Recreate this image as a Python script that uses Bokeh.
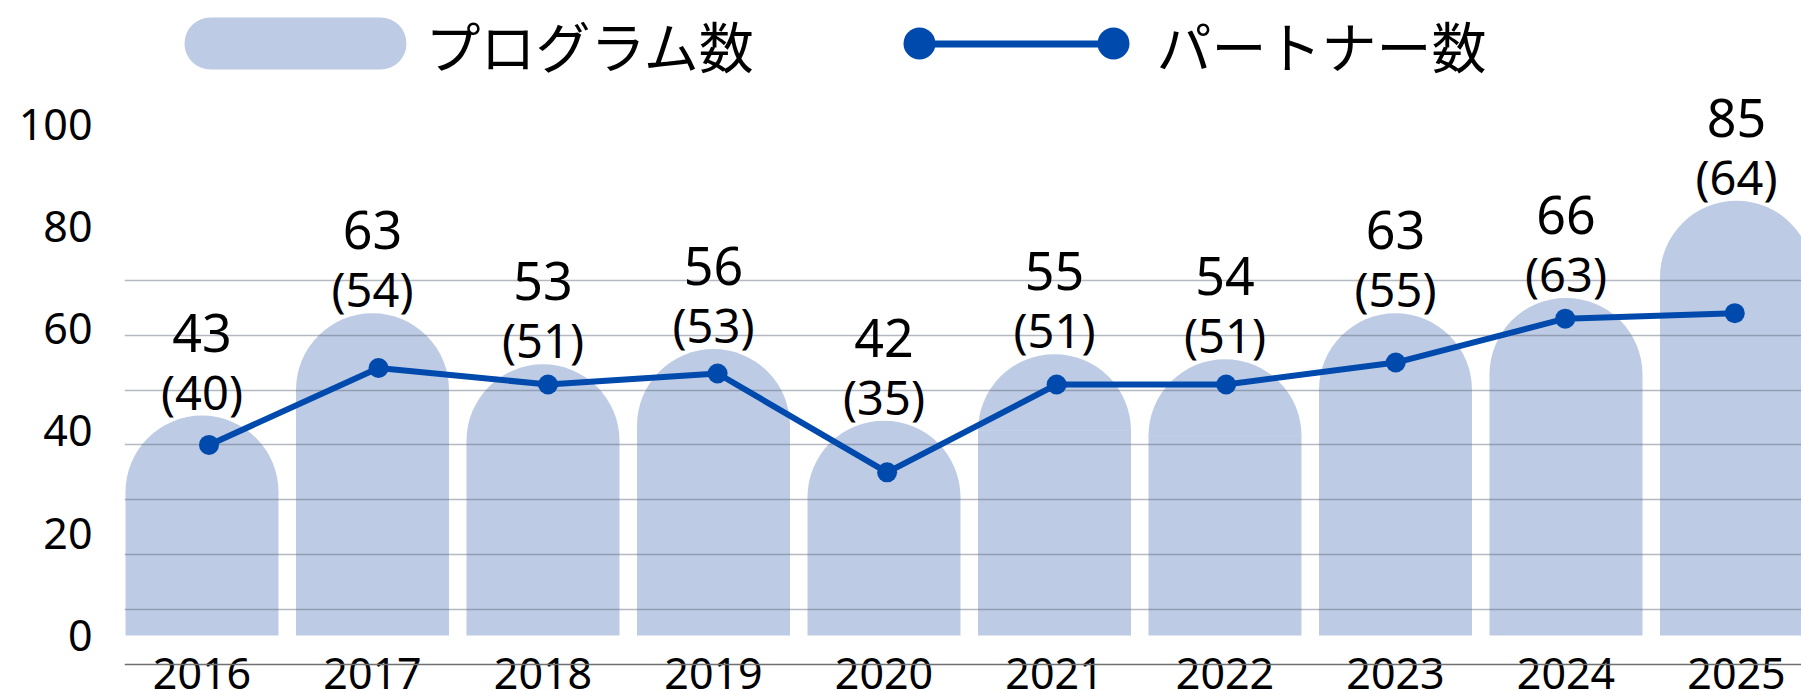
import math
from bokeh.plotting import figure
from bokeh.models import (Range1d, FixedTicker, Grid, Span, BoxAnnotation, Label)
from bokeh.embed import file_html
from bokeh.resources import INLINE
from bokeh.core.properties import value

# ---------------- data ----------------
years = [2016, 2017, 2018, 2019, 2020, 2021, 2022, 2023, 2024, 2025]
programs = [43, 63, 53, 56, 42, 55, 54, 63, 66, 85]      # プログラム数 (bars)
partners = [40, 54, 51, 53, 35, 51, 51, 55, 63, 64]      # パートナー数 (line)
y_ticks = [0, 20, 40, 60, 80, 100]
grid_ticks = [10, 20, 30, 40, 50, 60, 70]
legend_labels = ["プログラム数", "パートナー数"]

# ---------------- style ----------------
FONT = "Noto Sans CJK JP"
NUM_FONT = "Noto Sans"
BAR_COLOR = "#bdcce4"
LINE_COLOR = "#004aad"
TEXT_COLOR = "#000000"

W, H = 1801, 691
LEFT = 124
FW = W - LEFT

# scales (pixels per data unit)
PX_BAR_X = 170.5
PX_BAR_Y = 5.115
PX_LINE_X = 169.53
PX_LINE_Y = 5.49
BAR_W = 153.0 / PX_BAR_X
BAR_ZERO_FROM_BOTTOM = 56.0
LINE_ZERO_FROM_BOTTOM = 27.0

x_range = Range1d(2015.5455, 2015.5455 + FW / PX_BAR_X)
y_range = Range1d(-BAR_ZERO_FROM_BOTTOM / PX_BAR_Y, (H - BAR_ZERO_FROM_BOTTOM) / PX_BAR_Y)

p = figure(width=W, height=H, x_range=x_range, y_range=y_range,
           output_backend="svg", toolbar_location=None,
           x_axis_location=None, y_axis_location="left",
           min_border_left=LEFT, min_border_right=0,
           min_border_top=0, min_border_bottom=0,
           outline_line_color=None, background_fill_color="white",
           border_fill_color="white")

p.extra_x_ranges = {
    "lx": Range1d(2015.5016, 2015.5016 + FW / PX_LINE_X),
    "px": Range1d(LEFT, W),
}
p.extra_y_ranges = {
    "ly": Range1d(-LINE_ZERO_FROM_BOTTOM / PX_LINE_Y, (H - LINE_ZERO_FROM_BOTTOM) / PX_LINE_Y),
    "py": Range1d(H, 0),
}

p.xgrid.visible = False
p.ygrid.visible = False

# y axis (bar scale)
ax = p.yaxis[0]
ax.ticker = FixedTicker(ticks=y_ticks)
ax.axis_line_color = None
ax.major_tick_line_color = None
ax.minor_tick_line_color = None
ax.major_tick_out = 0
ax.major_tick_in = 0
ax.major_label_standoff = 32
ax.major_label_text_font = NUM_FONT
ax.major_label_text_font_size = "43px"
ax.major_label_text_color = TEXT_COLOR

# bars: straight part + semicircular cap
r_x = BAR_W / 2.0
r_y = r_x * PX_BAR_X / PX_BAR_Y
cap_centers = [v - r_y for v in programs]
p.vbar(x=years, width=BAR_W, bottom=0, top=[c + 0.1 for c in cap_centers],
       fill_color=BAR_COLOR, line_color=None, level="image")
p.wedge(x=years, y=cap_centers, radius=r_x, start_angle=0, end_angle=math.pi,
        fill_color=BAR_COLOR, line_color=None, level="image")

# gridlines (line scale), drawn over bars
g = Grid(dimension=1, ticker=FixedTicker(ticks=grid_ticks), y_range_name="ly",
         grid_line_color="#5a6478", grid_line_alpha=0.45, grid_line_width=1.3)
p.add_layout(g)

# axis base line
p.add_layout(Span(location=0, dimension="width", y_range_name="ly",
                  line_color="#707070", line_width=1.6))

# partner line
p.line(x=years, y=partners, x_range_name="lx", y_range_name="ly",
       line_color=LINE_COLOR, line_width=6)
p.scatter(x=years, y=partners, x_range_name="lx", y_range_name="ly",
          marker="circle", size=20, fill_color=LINE_COLOR, line_color=None)

# value labels
p.text(x=years, y=programs, text=[str(v) for v in programs],
       text_font=value(NUM_FONT), text_font_size="52px", text_color=TEXT_COLOR,
       text_align="center", text_baseline="middle", y_offset=-83)
p.text(x=years, y=programs, text=[f"({v})" for v in partners],
       text_font=value(NUM_FONT), text_font_size="47px", text_color=TEXT_COLOR,
       text_align="center", text_baseline="middle", y_offset=-24)

# year labels
p.text(x=years, y=[0] * len(years), y_range_name="ly", text=[str(y) for y in years],
       text_font=value(NUM_FONT), text_font_size="43px", text_color=TEXT_COLOR,
       text_align="center", text_baseline="middle", y_offset=9)

# legend
p.add_layout(BoxAnnotation(left=184, right=406, top=17, bottom=69,
                           x_range_name="px", y_range_name="py",
                           fill_color=BAR_COLOR, fill_alpha=1.0, line_color=None,
                           border_radius=26, level="annotation"))
p.add_layout(BoxAnnotation(left=919, right=1113, top=40, bottom=47,
                           x_range_name="px", y_range_name="py",
                           fill_color=LINE_COLOR, fill_alpha=1.0, line_color=None))
for cx in (919, 1113):
    p.add_layout(BoxAnnotation(left=cx - 16, right=cx + 16, top=27, bottom=59,
                               x_range_name="px", y_range_name="py",
                               fill_color=LINE_COLOR, fill_alpha=1.0, line_color=None,
                               border_radius=16))
p.add_layout(Label(x=425, y=43.5, x_range_name="px", y_range_name="py",
                   text=legend_labels[0], text_font=FONT, text_font_size="55px",
                   text_color=TEXT_COLOR, text_align="left", text_baseline="middle"))
p.add_layout(Label(x=1156, y=43.5, x_range_name="px", y_range_name="py",
                   text=legend_labels[1], text_font=FONT, text_font_size="55px",
                   text_color=TEXT_COLOR, text_align="left", text_baseline="middle"))

open("out.html", "w").write(file_html(p, INLINE))
